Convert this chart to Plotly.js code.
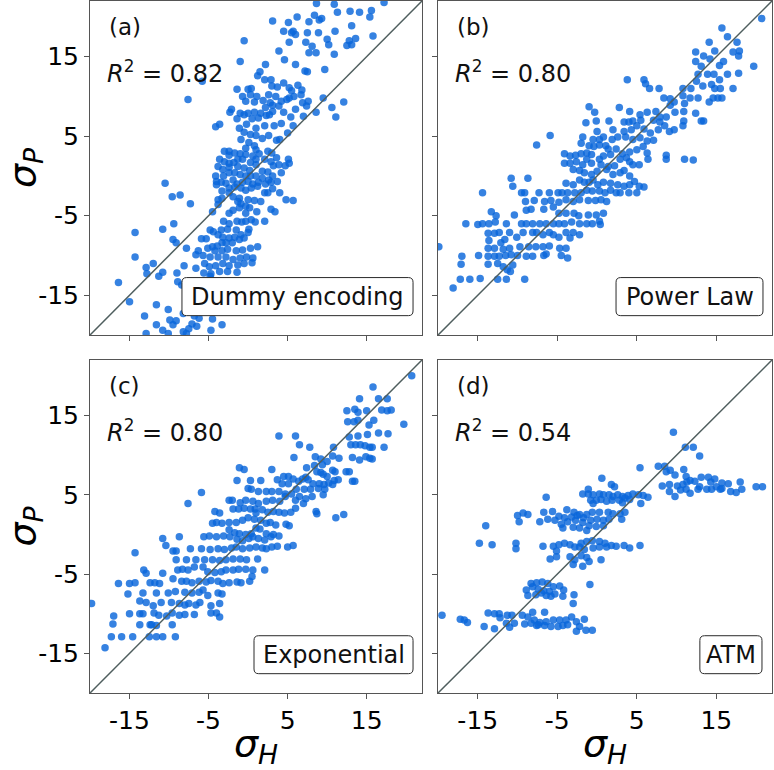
<!DOCTYPE html>
<html>
<head>
<meta charset="utf-8">
<script src="https://cdn.plot.ly/plotly-3.0.1.min.js"></script>
<style>html,body{margin:0;padding:0;background:#fff;}#chart{width:774px;height:770px;}</style>
</head>
<body>
<div id="chart"></div>
<script>
// ---- data (sigma_H, sigma_P) ----
const ptsA = [[8.65,21.7],[10.9,21.6],[17.2,21.8],[11.3,20.6],[12.9,20.7],[14.1,20.6],[15.6,20.8],[6.2,20.0],[8.4,20.2],[3.1,19.5],[5.1,19.3],[7.7,19.4],[9.0,19.6],[9.3,19.8],[15.4,20.0],[13.1,18.9],[4.5,18.2],[5.7,18.2],[6.0,17.8],[5.5,18.0],[11.0,18.2],[8.9,18.0],[7.5,18.0],[15.8,17.6],[13.6,17.3],[12.8,17.0],[13.1,16.5],[12.5,16.4],[-0.5,17.0],[5.2,16.8],[7.3,16.8],[8.1,16.3],[10.0,17.2],[10.2,16.5],[10.9,15.3],[8.6,15.5],[7.7,15.5],[3.9,15.7],[4.6,14.6],[6.0,14.0],[-1.0,14.4],[2.2,14.0],[7.2,13.2],[7.5,13.1],[9.7,13.4],[1.5,13.1],[1.2,12.6],[2.1,12.1],[2.9,12.1],[3.7,11.2],[3.0,11.3],[4.5,11.7],[5.2,11.1],[5.5,10.7],[6.3,11.4],[6.8,10.8],[6.7,10.2],[5.8,10.0],[5.2,9.8],[4.9,9.6],[0.0,10.9],[0.4,11.0],[-1.4,10.9],[-0.7,10.0],[0.3,10.2],[1.1,10.0],[-0.3,9.4],[0.8,9.3],[1.9,9.5],[2.6,10.2],[3.5,10.0],[4.2,9.4],[3.1,8.9],[2.8,9.2],[2.2,8.6],[1.6,7.9],[0.8,8.0],[0.0,7.9],[-1.0,7.9],[-2.1,8.4],[-2.3,8.0],[-1.4,7.2],[-0.5,7.7],[0.5,7.2],[1.3,7.3],[2.3,7.6],[2.7,7.7],[3.1,8.1],[3.9,8.8],[4.5,8.0],[5.4,7.4],[6.0,8.4],[6.9,9.2],[7.6,9.4],[7.4,8.8],[7.0,7.5],[8.6,8.0],[9.5,9.8],[10.6,8.6],[11.1,7.4],[12.1,9.3],[-5.8,11.9],[-7.6,9.6],[-4.1,6.2],[-3.6,6.5],[-1.1,6.0],[-0.2,6.5],[1.0,6.0],[2.1,6.3],[3.3,6.3],[4.2,6.6],[5.0,5.4],[5.7,6.3],[-0.5,5.5],[0.3,5.2],[1.0,5.1],[0.1,4.2],[1.8,4.7],[2.6,5.1],[3.6,4.5],[4.0,4.6],[-0.9,4.6],[-0.3,3.5],[0.8,3.8],[1.0,3.3],[-2.4,3.1],[-3.0,3.1],[-2.4,2.6],[-1.7,2.9],[-1.0,2.8],[-0.3,2.7],[0.6,2.5],[1.4,2.8],[2.5,3.1],[3.0,2.9],[3.6,2.3],[2.9,1.8],[2.1,2.1],[1.0,2.1],[0.3,1.7],[-0.7,2.1],[-1.3,2.1],[-1.8,1.7],[-2.4,1.6],[-3.0,1.8],[-3.6,2.1],[-3.8,1.2],[-3.2,0.8],[-2.4,1.1],[-1.3,1.2],[-0.5,1.0],[0.2,0.7],[1.0,1.4],[1.8,0.6],[2.5,0.5],[3.2,1.3],[3.9,1.4],[4.7,1.3],[5.1,2.1],[5.2,1.6],[4.2,0.4],[3.1,0.0],[2.6,-0.5],[1.8,-0.3],[1.0,0.0],[0.3,0.0],[-0.3,0.0],[-1.0,0.2],[-1.7,0.4],[-2.4,0.4],[-3.1,0.0],[-4.1,0.0],[-4.0,-0.7],[-3.4,-0.8],[-2.8,-0.9],[-1.9,-0.5],[-1.4,-1.0],[-0.7,-0.8],[0.0,-0.7],[0.6,-1.0],[1.3,-0.8],[2.2,-1.0],[2.9,-0.8],[3.7,-0.7],[-4.0,-1.1],[-3.3,-1.9],[-2.4,-1.5],[-1.7,-1.4],[-0.9,-1.5],[-0.3,-1.8],[0.4,-1.5],[1.2,-1.3],[2.1,-2.1],[2.5,-2.1],[3.1,-1.6],[4.0,-2.1],[4.8,-3.0],[5.7,-3.1],[-10.5,-0.9],[-9.6,-2.6],[-8.6,-2.4],[-7.3,-3.5],[-3.8,-3.0],[-3.3,-2.8],[-1.9,-2.6],[-2.4,-2.1],[-1.1,-2.8],[0.0,-3.0],[0.8,-3.1],[1.6,-3.2],[-4.5,-4.5],[-3.8,-3.6],[-1.3,-3.2],[-0.9,-3.5],[-0.3,-3.8],[0.2,-4.0],[1.1,-4.5],[2.9,-4.2],[3.4,-4.5],[-2.4,-4.7],[-1.9,-4.3],[-1.1,-4.0],[-0.3,-4.7],[0.4,-5.5],[-0.3,-5.7],[-0.8,-5.8],[-1.4,-5.7],[-2.4,-6.0],[-3.1,-5.7],[-3.4,-6.8],[-2.6,-6.7],[-1.5,-6.8],[0.1,-6.7],[0.9,-5.8],[2.1,-5.7],[-4.4,-7.0],[-4.8,-6.8],[-3.8,-7.4],[-3.2,-7.7],[-2.4,-7.8],[-1.7,-7.7],[-0.9,-7.4],[0.0,-7.1],[-1.1,-8.0],[-0.5,-7.8],[-2.0,-8.4],[-2.8,-8.4],[-3.3,-8.4],[-3.9,-8.8],[-4.5,-8.9],[-5.3,-7.9],[-5.9,-7.9],[-5.1,-9.1],[-4.2,-9.4],[-3.3,-9.4],[-2.6,-9.2],[-1.5,-9.4],[-0.7,-9.3],[0.3,-9.1],[1.2,-8.9],[-6.3,-9.4],[-6.6,-9.9],[-5.7,-10.0],[-4.8,-10.2],[-3.8,-10.2],[-2.8,-10.2],[-1.9,-10.5],[-1.0,-10.3],[-0.2,-10.2],[0.6,-10.3],[-5.5,-11.0],[-4.9,-11.4],[-4.1,-11.3],[-3.2,-11.0],[-2.4,-11.3],[-1.3,-11.2],[-0.5,-11.0],[0.5,-10.9],[-6.6,-11.6],[-5.6,-12.2],[-4.7,-12.3],[-3.6,-12.0],[-2.6,-12.0],[-1.4,-12.1],[-4.8,-12.6],[-4.5,-13.1],[-14.3,-7.1],[-10.8,-6.7],[-9.4,-6.0],[-9.5,-8.0],[-9.1,-8.4],[-7.8,-9.1],[-14.3,-10.2],[-12.9,-11.5],[-12.0,-11.0],[-12.8,-12.3],[-11.3,-12.6],[-10.8,-12.1],[-8.1,-11.3],[-9.0,-12.2],[-8.9,-13.3],[-16.4,-13.4],[-15.0,-15.8],[-13.1,-17.6],[-11.6,-16.2],[-10.1,-16.8],[-9.9,-18.1],[-9.1,-18.2],[-8.4,-13.7],[-7.8,-14.2],[-7.8,-15.5],[-7.1,-14.7],[-6.3,-15.0],[-6.6,-15.8],[-6.1,-15.5],[-6.8,-17.6],[-6.2,-17.9],[-7.1,-18.6],[-6.5,-18.9],[-7.5,-19.2],[-8.2,-17.3],[-9.5,-18.7],[-11.6,-18.7],[-10.8,-19.4],[-10.1,-19.8],[-8.2,-19.6],[-7.8,-19.8],[-4.5,-18.0],[-3.3,-18.7],[-4.7,-19.4],[-12.9,-19.8]];

const ptsB = [[20.7,19.8],[15.7,18.6],[16.4,17.5],[14.1,16.8],[17.6,16.8],[12.4,15.6],[14.8,15.7],[13.4,15.1],[14.2,14.7],[17.1,15.6],[17.9,15.7],[17.8,15.1],[15.9,14.4],[12.4,14.4],[13.1,13.8],[19.7,13.8],[15.4,13.9],[12.7,12.8],[13.9,12.8],[14.7,12.8],[15.4,12.1],[17.8,12.9],[16.4,12.8],[12.5,11.9],[11.8,11.0],[13.3,11.3],[14.4,11.5],[14.8,11.0],[15.5,11.0],[17.1,11.0],[10.8,11.0],[11.7,9.8],[12.7,9.8],[14.6,9.8],[15.2,9.8],[15.7,9.8],[14.1,9.3],[10.8,10.1],[9.7,9.3],[9.2,9.7],[8.4,9.8],[9.2,8.9],[10.9,8.1],[11.0,9.1],[12.4,7.9],[13.4,6.9],[13.1,6.9],[6.1,11.6],[3.8,12.1],[5.9,12.1],[6.6,11.0],[7.8,11.0],[2.8,8.6],[-1.0,8.7],[-0.3,8.0],[1.5,6.9],[4.1,8.1],[5.4,7.7],[6.3,8.0],[7.4,8.1],[7.9,7.4],[7.1,7.0],[5.5,7.0],[4.5,6.9],[4.0,6.8],[3.4,6.8],[7.9,6.8],[8.7,7.4],[9.8,8.0],[10.9,6.9],[10.8,6.3],[9.7,5.8],[9.1,5.6],[8.5,6.3],[7.7,5.8],[6.7,5.4],[5.9,5.9],[5.0,6.3],[4.3,5.8],[3.4,5.6],[2.0,5.8],[-0.1,6.9],[-1.4,6.7],[0.0,5.6],[-1.8,4.9],[-5.9,5.1],[-7.6,3.9],[-2.0,4.1],[-1.0,3.8],[-0.4,3.7],[0.3,3.9],[1.1,3.8],[1.4,3.4],[0.8,4.9],[0.3,4.6],[-0.5,4.6],[1.9,4.6],[2.6,4.9],[3.6,4.9],[4.5,4.6],[5.4,4.8],[6.3,4.4],[7.1,4.5],[5.8,3.7],[5.0,3.3],[4.1,3.0],[3.2,2.8],[2.4,3.4],[1.7,2.7],[0.8,2.5],[0.3,2.1],[-0.7,2.7],[-1.3,2.9],[-2.0,2.8],[-2.7,2.6],[-3.4,2.5],[-4.1,2.8],[-4.1,1.6],[-3.4,1.6],[-2.6,1.8],[-1.8,1.4],[-1.3,2.1],[-0.7,1.6],[0.5,1.4],[1.4,1.2],[2.2,1.3],[2.9,2.1],[3.7,2.3],[4.1,1.8],[4.5,1.4],[5.3,1.4],[6.3,2.9],[6.4,2.1],[8.7,2.6],[8.7,2.1],[11.0,2.1],[12.1,2.0],[-3.0,0.8],[-2.2,0.7],[-1.6,0.4],[-0.7,0.2],[0.0,0.6],[1.2,0.8],[2.0,0.2],[2.9,0.4],[3.4,0.7],[4.1,0.0],[-2.2,-0.5],[-1.6,-0.8],[-1.0,-0.8],[-0.5,-0.5],[0.1,-1.1],[0.8,-0.8],[1.7,-0.9],[2.6,-1.1],[3.4,-1.3],[4.1,-1.1],[4.7,-0.7],[5.3,-1.3],[5.9,-1.4],[-3.9,-0.9],[-3.0,-1.1],[-4.9,-2.1],[-4.4,-2.1],[-3.7,-2.1],[-2.8,-2.1],[-2.0,-2.1],[-1.3,-1.8],[-0.6,-1.9],[0.3,-1.9],[1.0,-2.1],[1.7,-1.8],[2.4,-2.1],[2.9,-2.1],[4.0,-2.1],[5.0,-2.1],[-10.8,-0.3],[-8.7,-0.3],[-10.6,-1.3],[-14.4,-2.1],[-9.5,-2.1],[-9.1,-2.1],[-7.3,-2.1],[-6.0,-2.1],[-9.0,-3.2],[-7.9,-3.1],[-6.6,-3.2],[-5.8,-3.1],[-4.8,-3.3],[-3.9,-3.0],[-3.0,-3.2],[-2.2,-3.0],[-1.1,-3.1],[-0.2,-3.1],[0.5,-3.0],[1.2,-3.2],[-8.3,-4.2],[-8.9,-4.3],[-6.7,-4.2],[-5.5,-3.9],[-4.8,-4.7],[-3.9,-4.7],[-2.9,-4.7],[-2.3,-5.0],[-1.1,-4.9],[-0.1,-4.9],[0.8,-4.7],[-13.3,-4.5],[-12.7,-5.0],[-10.4,-4.9],[-9.5,-6.0],[-8.9,-6.0],[-8.1,-6.0],[-7.2,-6.0],[-6.4,-6.0],[-5.5,-6.0],[-4.8,-6.0],[-4.1,-6.0],[-3.2,-5.8],[-2.2,-6.0],[-1.3,-6.0],[-0.6,-6.0],[0.3,-5.7],[0.4,-6.1],[-16.5,-6.0],[-15.0,-6.1],[-14.4,-6.0],[-13.6,-6.0],[-12.8,-5.8],[-11.4,-6.0],[-13.7,-7.2],[-12.9,-7.2],[-12.3,-7.1],[-11.0,-7.1],[-10.1,-7.7],[-9.3,-7.1],[-8.1,-7.1],[-7.6,-7.1],[-6.8,-7.4],[-6.0,-7.1],[-5.5,-7.4],[-4.8,-7.7],[-3.9,-7.1],[-3.0,-7.1],[-2.2,-7.4],[-3.4,-7.8],[-13.6,-8.1],[-12.1,-8.4],[-11.6,-8.0],[-8.6,-8.9],[-7.7,-8.9],[-6.8,-8.9],[-6.0,-8.8],[-4.7,-9.1],[-3.9,-9.1],[-13.7,-9.1],[-12.9,-9.1],[-11.8,-9.2],[-11.0,-9.1],[-9.7,-8.9],[-17.0,-10.1],[-14.9,-10.0],[-13.7,-10.1],[-12.9,-10.1],[-12.3,-10.1],[-11.5,-10.0],[-10.8,-9.9],[-10.0,-10.0],[-8.9,-10.1],[-8.1,-10.1],[-6.7,-10.0],[-6.4,-9.8],[-4.5,-10.0],[-3.7,-10.3],[-17.1,-11.1],[-13.7,-11.1],[-12.5,-11.0],[-11.8,-11.4],[-11.3,-11.8],[-10.6,-11.2],[-18.1,-14.1],[-17.2,-13.0],[-16.0,-13.0],[-14.7,-12.9],[-12.5,-13.0],[-11.4,-13.0],[-10.9,-12.0],[-9.1,-13.0],[-19.9,-8.9]];

const ptsC = [[20.7,20.0],[15.8,18.6],[16.5,17.1],[17.6,17.1],[14.1,17.1],[12.5,15.6],[13.5,15.8],[13.9,15.4],[15.0,15.6],[16.9,15.7],[17.6,15.6],[18.1,15.7],[12.6,14.2],[13.4,14.2],[13.9,14.4],[15.3,13.8],[15.9,14.4],[19.7,13.9],[17.7,12.7],[16.5,12.8],[15.1,12.6],[13.9,12.4],[12.8,12.3],[13.0,11.3],[13.6,11.3],[14.2,11.3],[14.8,11.2],[15.4,11.0],[15.7,11.0],[17.2,11.0],[13.2,9.7],[14.1,9.4],[14.9,9.8],[15.4,9.6],[15.7,9.5],[12.4,7.9],[12.8,7.9],[13.2,6.7],[13.5,6.7],[3.9,12.4],[6.0,12.4],[6.5,11.3],[7.8,11.0],[5.8,9.7],[8.5,9.8],[9.2,9.5],[10.8,11.0],[10.7,9.9],[11.5,9.6],[10.0,9.2],[9.4,8.8],[8.4,8.7],[7.4,8.4],[8.7,7.9],[9.2,7.8],[9.5,7.6],[10.7,8.1],[11.0,7.9],[10.0,7.3],[10.9,6.8],[11.4,6.9],[10.2,6.5],[9.6,6.3],[9.0,6.4],[8.2,6.4],[7.6,6.9],[7.3,7.2],[6.9,7.0],[6.4,6.7],[5.7,7.0],[5.1,7.3],[4.5,7.3],[3.7,6.9],[3.0,8.2],[-1.1,8.4],[-0.5,8.2],[-1.4,6.8],[0.3,6.8],[1.6,6.8],[4.3,6.4],[5.1,6.4],[6.1,5.7],[7.1,5.7],[7.9,5.7],[8.9,5.8],[9.7,5.7],[10.7,6.3],[9.5,5.0],[8.1,4.8],[7.3,4.5],[6.5,4.8],[5.5,5.1],[4.7,5.1],[3.9,5.4],[3.0,5.4],[2.3,5.4],[1.3,5.4],[0.4,5.7],[0.0,5.8],[-5.9,5.3],[-7.6,3.9],[-2.4,4.3],[-2.0,4.3],[-1.0,4.0],[-0.3,4.3],[0.6,4.2],[1.3,3.9],[2.3,4.2],[3.1,4.3],[4.0,4.2],[4.7,4.8],[6.0,4.3],[7.0,3.9],[6.0,3.3],[8.6,2.9],[8.7,2.6],[11.1,2.1],[12.1,2.5],[5.4,2.8],[4.6,2.7],[3.9,2.8],[3.2,2.9],[2.5,2.8],[1.8,3.1],[0.9,3.2],[0.3,3.2],[-0.5,3.3],[-1.2,3.2],[-1.9,3.2],[-4.2,2.9],[-3.6,2.7],[1.0,2.7],[-4.0,1.5],[-3.3,1.4],[-2.4,1.5],[-1.5,1.5],[-0.7,1.8],[0.0,2.1],[0.8,1.9],[1.6,1.8],[2.3,1.4],[2.8,1.5],[3.5,1.2],[4.8,1.3],[5.2,1.1],[-4.5,1.4],[-2.4,0.6],[-1.7,0.2],[-1.1,0.1],[-0.3,0.0],[0.4,0.1],[1.0,0.8],[1.5,0.7],[2.3,0.1],[3.2,0.0],[3.9,-0.2],[-5.6,-0.3],[-4.9,-0.2],[-4.0,-0.3],[-3.1,-0.2],[-2.3,-0.3],[-1.4,-0.6],[-0.7,-0.8],[0.1,-0.5],[0.6,-0.3],[1.3,-0.5],[2.1,-0.7],[2.9,-0.3],[-10.8,-0.5],[-8.7,-0.3],[-10.4,-1.4],[-9.5,-2.1],[-9.1,-2.1],[-7.3,-1.8],[-5.9,-1.8],[-4.8,-1.9],[-3.8,-1.8],[-3.0,-1.9],[-2.1,-1.7],[-1.5,-1.6],[-0.7,-1.8],[0.2,-1.7],[1.0,-1.6],[1.8,-1.7],[2.3,-1.8],[3.0,-1.6],[3.7,-1.5],[5.0,-1.6],[5.7,-1.4],[-14.3,-2.3],[-9.1,-3.2],[-7.8,-3.2],[-6.6,-3.2],[-5.5,-3.2],[-4.5,-3.2],[-3.6,-3.3],[-2.8,-3.2],[-1.9,-3.1],[-1.0,-3.1],[-0.2,-3.2],[1.2,-3.1],[-8.9,-4.5],[-8.3,-4.4],[-7.6,-4.5],[-6.8,-4.1],[-5.7,-4.1],[-5.1,-4.7],[-4.2,-4.8],[-3.4,-4.7],[-2.8,-4.5],[-1.9,-4.5],[-1.2,-4.4],[-0.3,-4.4],[0.6,-4.5],[2.1,-4.5],[-13.2,-4.5],[-12.9,-4.9],[-10.8,-4.9],[-9.5,-5.6],[-8.4,-5.9],[-7.8,-5.9],[-7.1,-6.1],[-6.2,-5.9],[-5.3,-6.0],[-4.7,-5.8],[-3.8,-5.9],[-3.2,-6.2],[-2.4,-6.1],[-1.4,-6.0],[-0.9,-6.1],[0.2,-5.9],[0.5,-5.3],[-16.4,-6.2],[-15.0,-6.2],[-14.3,-6.1],[-12.4,-6.1],[-11.8,-6.1],[-11.2,-6.2],[-15.2,-7.5],[-13.3,-7.4],[-11.6,-7.4],[-10.1,-7.4],[-9.2,-7.2],[-8.0,-7.3],[-7.1,-7.4],[-6.2,-7.3],[-5.7,-7.0],[-5.1,-7.7],[-3.8,-7.4],[-3.3,-7.5],[-13.7,-8.4],[-12.9,-8.6],[-12.0,-9.0],[-11.0,-8.6],[-9.7,-8.6],[-8.7,-8.7],[-8.0,-8.9],[-7.5,-8.7],[-6.6,-8.9],[-6.1,-8.6],[-4.7,-9.0],[-3.6,-8.7],[-19.8,-8.7],[-15.0,-10.0],[-13.7,-10.0],[-13.3,-10.0],[-11.9,-9.9],[-11.3,-10.2],[-10.3,-10.3],[-9.6,-9.9],[-8.7,-10.2],[-8.0,-10.1],[-6.8,-10.1],[-4.7,-9.9],[-4.0,-9.9],[-3.6,-10.4],[-17.0,-10.3],[-17.1,-11.3],[-13.7,-11.4],[-12.4,-11.4],[-11.6,-11.5],[-9.6,-11.4],[-17.3,-12.9],[-16.0,-12.9],[-14.6,-12.9],[-12.5,-12.9],[-11.6,-12.9],[-10.8,-12.9],[-9.2,-12.9],[-18.1,-14.3],[-12.2,-11.4]];

const ptsD = [[9.6,12.9],[11.1,11.0],[12.1,11.0],[12.9,9.9],[5.4,8.4],[7.7,8.6],[8.5,8.6],[9.2,8.1],[8.7,7.9],[9.8,7.5],[10.9,8.2],[11.2,7.3],[11.7,6.8],[12.3,6.7],[13.1,7.2],[14.0,7.2],[14.8,7.0],[14.3,6.6],[15.7,6.5],[16.5,6.4],[18.0,6.6],[11.3,6.6],[8.2,6.1],[9.1,6.3],[9.1,5.4],[9.8,4.8],[11.2,5.7],[11.7,5.2],[12.7,5.7],[13.8,5.7],[14.4,5.7],[15.5,5.7],[16.8,5.4],[17.5,5.3],[18.2,5.7],[20.0,6.0],[20.8,6.0],[10.1,6.1],[10.8,6.3],[10.5,5.6],[12.9,6.0],[15.0,6.0],[15.7,5.8],[0.6,7.1],[1.8,6.3],[2.2,6.0],[-1.1,5.7],[-1.8,5.1],[-1.1,5.1],[-0.5,5.0],[0.3,5.1],[0.8,5.0],[1.5,5.0],[2.0,4.8],[2.6,5.0],[3.2,4.8],[3.9,4.9],[4.5,5.1],[5.2,5.0],[5.8,4.9],[6.4,4.7],[-0.8,4.3],[-0.1,4.3],[0.5,4.4],[1.2,4.2],[1.9,4.3],[2.8,4.3],[3.5,4.6],[4.1,4.4],[5.5,3.9],[-0.5,3.9],[3.2,4.0],[-6.4,4.7],[-6.7,2.8],[-5.6,2.9],[-3.8,3.1],[-2.9,2.8],[-2.2,2.5],[-1.3,2.5],[-0.6,2.8],[0.3,2.8],[1.4,2.8],[2.0,2.6],[2.9,2.6],[3.5,2.8],[-4.8,2.3],[-4.1,2.1],[-3.2,2.2],[-2.5,2.4],[-1.7,2.1],[-0.8,1.8],[0.0,1.9],[0.8,1.8],[1.5,1.9],[3.1,1.9],[-7.2,1.6],[-6.2,1.9],[-5.3,1.8],[-4.5,1.3],[-3.7,1.6],[-2.7,1.8],[-1.8,1.5],[-1.0,1.1],[-0.1,1.0],[0.8,1.1],[-10.0,2.4],[-9.3,2.7],[-8.7,2.5],[-9.8,1.6],[-4.3,0.8],[-3.0,0.9],[-2.2,0.8],[-1.3,0.5],[-14.0,1.1],[-14.8,-1.1],[-13.2,-1.3],[-10.2,-1.1],[-10.2,-1.8],[-6.8,-1.5],[-5.5,-1.5],[-4.8,-1.3],[-4.1,-1.1],[-3.4,-1.3],[-2.8,-1.6],[-2.0,-1.1],[-1.3,-0.9],[-0.6,-0.8],[0.3,-0.9],[1.0,-1.1],[1.8,-1.4],[2.4,-1.5],[3.4,-1.4],[4.1,-1.7],[5.4,-1.4],[-2.2,-1.6],[-1.6,-1.9],[-0.5,-1.7],[0.3,-1.6],[1.2,-1.6],[-5.1,-2.1],[-5.9,-3.1],[-5.1,-2.8],[-3.4,-2.8],[-2.8,-3.2],[-2.0,-2.7],[-1.3,-2.9],[-1.0,-3.4],[-1.8,-4.0],[-3.0,-3.8],[0.5,-3.2],[-0.9,-6.3],[-8.9,-7.0],[-8.3,-6.2],[-7.6,-6.1],[-6.9,-6.0],[-6.2,-6.2],[-5.5,-6.6],[-4.7,-6.5],[-4.2,-7.0],[-8.1,-6.6],[-7.4,-6.9],[-6.7,-7.1],[-6.0,-7.2],[-5.3,-7.5],[-4.3,-7.8],[-8.7,-7.7],[-7.7,-7.6],[-7.0,-7.4],[-6.4,-7.7],[-5.8,-7.8],[-2.9,-7.6],[-3.0,-8.7],[-8.1,-9.8],[-6.6,-9.8],[-13.7,-9.9],[-12.9,-10.0],[-12.3,-10.0],[-11.3,-10.2],[-10.7,-10.2],[-9.4,-10.2],[-8.7,-10.4],[-7.9,-10.8],[-7.2,-11.1],[-6.4,-11.0],[-5.5,-10.8],[-4.7,-10.8],[-3.9,-10.8],[-3.2,-10.4],[-2.6,-11.0],[-1.6,-10.7],[-12.2,-10.5],[-11.4,-11.2],[-10.4,-11.2],[-9.1,-11.3],[-8.3,-11.2],[-7.4,-11.4],[-6.6,-11.5],[-5.8,-11.6],[-4.9,-11.6],[-4.3,-11.5],[-3.7,-11.4],[-2.2,-11.6],[-19.5,-10.2],[-17.2,-10.7],[-16.7,-10.8],[-16.3,-11.1],[-14.2,-11.6],[-12.9,-11.9],[-11.0,-11.7],[-7.6,-11.5],[-1.4,-12.1],[-0.6,-12.1],[-2.6,-12.2]];

const panelLabels = ['(a)', '(b)', '(c)', '(d)'];
const r2Values = ['0.82', '0.80', '0.80', '0.54'];
const methodNames = ['Dummy encoding', 'Power Law', 'Exponential', 'ATM'];
const tickVals = [-15, -5, 5, 15];
const tickText = ['-15', '-5', '5', '15'];
const axisRange = [-20, 22];

// ---- figure ----
const FONT = 'DejaVu Sans, Liberation Sans, sans-serif';
const panels = [ptsA, ptsB, ptsC, ptsD];
const axIds = ['', '2', '3', '4'];
const dotColor = 'rgb(10,102,218)';
const lineColor = '#4f5e5e';

const traces = [];
panels.forEach((pts, i) => {
  traces.push({
    type: 'scatter', mode: 'markers',
    x: pts.map(p => p[0]), y: pts.map(p => p[1]),
    xaxis: 'x' + axIds[i], yaxis: 'y' + axIds[i],
    marker: {color: dotColor, size: 7.5, opacity: 0.82, line: {width: 0}},
    hoverinfo: 'skip', showlegend: false
  });
  traces.push({
    type: 'scatter', mode: 'lines',
    x: axisRange, y: axisRange,
    xaxis: 'x' + axIds[i], yaxis: 'y' + axIds[i],
    line: {color: lineColor, width: 1.5},
    hoverinfo: 'skip', showlegend: false
  });
});

const xDom = [[0, 0.4868], [0.5103, 1]];
const yDom = [[0.5173, 1], [0, 0.4812]];

function xaxis(col, row) {
  const a = {
    domain: xDom[col], range: axisRange, anchor: 'y' + axIds[row * 2 + col],
    showline: true, mirror: true, linecolor: '#555', linewidth: 1,
    ticks: 'outside', ticklen: 5, tickwidth: 1, tickcolor: '#555',
    tickvals: tickVals, ticktext: tickText,
    showticklabels: row === 1, showgrid: false, zeroline: false,
    tickfont: {family: FONT, size: 25, color: '#000'}
  };
  if (row === 1) a.title = {text: '<i>σ</i><sub><i>H</i></sub>', font: {family: FONT, size: 38, color: '#000'}, standoff: 9};
  return a;
}
function yaxis(col, row) {
  const a = {
    domain: yDom[row], range: axisRange, anchor: 'x' + axIds[row * 2 + col],
    showline: true, mirror: true, linecolor: '#555', linewidth: 1,
    ticks: 'outside', ticklen: 5, tickwidth: 1, tickcolor: '#555',
    tickvals: tickVals, ticktext: tickText,
    showticklabels: col === 0, showgrid: false, zeroline: false,
    tickfont: {family: FONT, size: 25, color: '#000'}
  };
  if (col === 0) a.title = {text: '<i>σ</i><sub><i>P</i></sub>', font: {family: FONT, size: 38, color: '#000'}, standoff: 6};
  return a;
}

// rounded label boxes (axis-domain fractions: x0, x1, y0, y1)
const boxes = [[0.277, 0.973, 0.058, 0.172], [0.533, 0.973, 0.058, 0.172],
               [0.494, 0.973, 0.058, 0.172], [0.784, 0.970, 0.058, 0.172]];
function roundRect(b) {
  const [x0, x1, y0, y1] = b, rx = 0.014, ry = 0.014;
  return `M ${x0 + rx},${y0} L ${x1 - rx},${y0} Q ${x1},${y0} ${x1},${y0 + ry} ` +
         `L ${x1},${y1 - ry} Q ${x1},${y1} ${x1 - rx},${y1} L ${x0 + rx},${y1} ` +
         `Q ${x0},${y1} ${x0},${y1 - ry} L ${x0},${y0 + ry} Q ${x0},${y0} ${x0 + rx},${y0} Z`;
}

const layout = {
  width: 774, height: 770,
  margin: {l: 90, r: 2, t: 1, b: 77},
  paper_bgcolor: '#fff', plot_bgcolor: '#fff',
  font: {family: FONT, color: '#000'},
  annotations: [], shapes: []
};
for (let i = 0; i < 4; i++) {
  const col = i % 2, row = Math.floor(i / 2);
  layout['xaxis' + axIds[i]] = xaxis(col, row);
  layout['yaxis' + axIds[i]] = yaxis(col, row);
  const xr = 'x' + axIds[i] + ' domain', yr = 'y' + axIds[i] + ' domain';
  layout.shapes.push({
    type: 'path', xref: xr, yref: yr, path: roundRect(boxes[i]),
    fillcolor: '#fff', line: {color: '#2a2a2a', width: 1}, layer: 'above'
  });
  layout.annotations.push({
    xref: xr, yref: yr, x: 0.05, y: 0.922, xanchor: 'left', yanchor: 'middle',
    text: panelLabels[i], showarrow: false, font: {family: FONT, size: 23, color: '#111'}
  });
  layout.annotations.push({
    xref: xr, yref: yr, x: 0.045, y: 0.787, xanchor: 'left', yanchor: 'middle',
    text: '<i>R</i><sup>2</sup> = ' + r2Values[i], showarrow: false,
    font: {family: FONT, size: 24, color: '#111'}
  });
  layout.annotations.push({
    xref: xr, yref: yr, x: (boxes[i][0] + boxes[i][1]) / 2, y: (boxes[i][2] + boxes[i][3]) / 2,
    xanchor: 'center', yanchor: 'middle',
    text: methodNames[i], showarrow: false,
    font: {family: FONT, size: 24, color: '#111'}
  });
}

Plotly.newPlot('chart', traces, layout, {displayModeBar: false, staticPlot: true});
</script>
</body>
</html>
